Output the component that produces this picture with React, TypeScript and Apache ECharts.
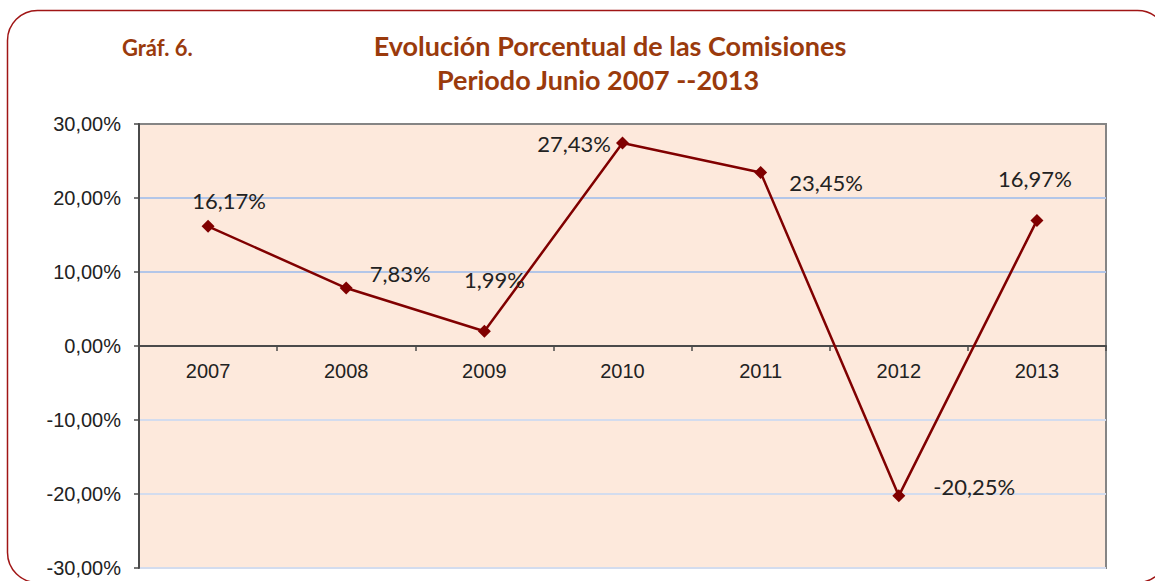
import React, { useEffect, useRef } from "react";
import * as echarts from "echarts";

const categories = ["2007", "2008", "2009", "2010", "2011", "2012", "2013"];
const values = [16.17, 7.83, 1.99, 27.43, 23.45, -20.25, 16.97];
const labelTexts = ["16,17%", "7,83%", "1,99%", "27,43%", "23,45%", "-20,25%", "16,97%"];
const titleLine1 = "Evolución Porcentual de las Comisiones";
const titleLine2 = "Periodo Junio 2007 --2013";
const chartTag = "Gráf. 6.";

const labelPlacement: { position: string; offset: number[] }[] = [
  { position: "top", offset: [21, -3] },
  { position: "right", offset: [12, -15] },
  { position: "top", offset: [10, -29] },
  { position: "left", offset: [0, 0] },
  { position: "right", offset: [17, 10] },
  { position: "right", offset: [23, -9] },
  { position: "top", offset: [-2, -19] },
];

export default function App() {
  const ref = useRef<HTMLDivElement>(null);
  useEffect(() => {
    if (!ref.current) return;
    const chart = echarts.init(ref.current, null, { renderer: "svg" });
    const titleColor = "#9a3a0c";
    const gridTop = 124;
    const gridBottom = 13;
    const gridHeight = 581 - gridTop - gridBottom;
    chart.setOption({
      animation: false,
      backgroundColor: "#ffffff",
      graphic: [
        {
          type: "rect",
          z: -10,
          shape: { x: 7.5, y: 10.5, width: 1160, height: 572, r: 30 },
          style: { fill: "#ffffff", stroke: "#a01515", lineWidth: 1.5 },
        },
      ],
      title: [
        {
          text: chartTag,
          left: 117,
          top: 31,
          textStyle: { fontFamily: "Lato", fontWeight: "bold", fontSize: 22, color: titleColor },
        },
        {
          text: titleLine1,
          left: 605,
          top: 27,
          textAlign: "center",
          textStyle: { fontFamily: "Lato", fontWeight: "bold", fontSize: 27, color: titleColor },
        },
        {
          text: titleLine2,
          left: 593,
          top: 61,
          textAlign: "center",
          textStyle: { fontFamily: "Lato", fontWeight: "bold", fontSize: 27, color: titleColor },
        },
      ],
      grid: {
        left: 139,
        right: 49,
        top: gridTop,
        bottom: gridBottom,
        containLabel: false,
        outerBoundsMode: "none",
        show: true,
        backgroundColor: "#fde9dc",
        borderColor: "#858585",
        borderWidth: 2,
      },
      xAxis: {
        type: "category",
        data: categories,
        boundaryGap: true,
        position: "bottom",
        offset: -gridHeight / 2,
        axisLine: { onZero: false, lineStyle: { color: "#4a4a4a", width: 2 } },
        axisTick: { show: true, length: 5, inside: false, lineStyle: { color: "#4a4a4a", width: 1.5 } },
        axisLabel: { margin: 15, fontFamily: "Liberation Sans", fontSize: 20, color: "#222222" },
        splitLine: { show: false },
      },
      yAxis: {
        type: "value",
        min: -30,
        max: 30,
        interval: 10,
        axisLine: { show: true, lineStyle: { color: "#4a4a4a", width: 2 } },
        axisTick: { show: true, length: 5, lineStyle: { color: "#4a4a4a", width: 1.5 } },
        axisLabel: {
          margin: 18,
          fontFamily: "Liberation Sans",
          fontSize: 20,
          color: "#222222",
          formatter: (v: number) => v.toFixed(2).replace(".", ",") + "%",
        },
        splitLine: {
          show: true,
          lineStyle: {
            color: ["#d3dcee", "#d3dcee", "#d3dcee", "rgba(0,0,0,0)", "#b3c6e8", "#b3c6e8", "rgba(0,0,0,0)"],
            width: 2,
          },
        },
      },
      series: [
        {
          type: "line",
          data: values.map((v, i) => ({
            value: v,
            label: {
              show: true,
              position: labelPlacement[i].position,
              offset: labelPlacement[i].offset,
              formatter: () => labelTexts[i],
            },
          })),
          symbol: "diamond",
          symbolSize: 13,
          lineStyle: { color: "#800000", width: 2.5 },
          itemStyle: { color: "#800000" },
          label: {
            show: true,
            distance: 5,
            fontFamily: "Lato",
            fontSize: 22,
            color: "#222222",
          },
        },
      ],
    });
    return () => chart.dispose();
  }, []);
  return (
    <div
      ref={ref}
      style={{ position: "fixed", left: 0, top: 0, width: 1155, height: 581 }}
    />
  );
}
